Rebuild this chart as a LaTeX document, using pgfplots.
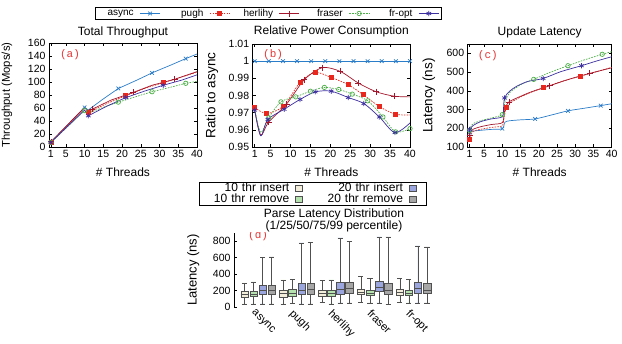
\documentclass[border=0pt]{standalone}
\usepackage{pgfplots}
\pgfplotsset{compat=1.18}
\usepgfplotslibrary{statistics}
\usepackage{fontspec}
\setmainfont{Liberation Sans}
\newfontfamily\monofont{Liberation Mono}
\definecolor{casync}{HTML}{2B7CC9}
\definecolor{cpugh}{HTML}{E8281E}
\definecolor{cherl}{HTML}{A3162B}
\definecolor{cfras}{HTML}{4CAF47}
\definecolor{cfropt}{HTML}{3C2FA0}
\definecolor{ins10}{HTML}{F2EEDB}
\definecolor{rem10}{HTML}{B6E2B0}
\definecolor{ins20}{HTML}{9BA6DF}
\definecolor{rem20}{HTML}{A6A6A6}
\definecolor{boxdraw}{HTML}{505050}
\definecolor{lblred}{HTML}{E83535}
\pgfplotsset{
  sasync/.style={color=casync, solid, line width=0.7pt, mark=x, mark size=2.6pt, mark options={solid}},
  spugh/.style={color=cpugh, dash pattern=on 1.6pt off 1.2pt, line width=0.7pt, mark=square*, mark size=2pt, mark options={solid}},
  sherl/.style={color=cherl, solid, line width=0.7pt, mark=+, mark size=3pt, mark options={solid}},
  sfras/.style={color=cfras, dash pattern=on 1.6pt off 1.2pt, line width=0.7pt, mark=o, mark size=2.2pt, mark options={solid}},
  sfropt/.style={color=cfropt, solid, line width=0.7pt, mark=asterisk, mark size=2.6pt, mark options={solid}},
  topax/.style={scale only axis, anchor=south west, xmin=0.5, xmax=40,
    xtick={1,5,10,15,20,25,30,35,40}, tick align=inside, tick pos=both,
    major tick length=3pt, axis line style={line width=0.6pt},
    every tick/.style={black, line width=0.5pt},
    tick label style={font=\fontsize{10.5}{12}\selectfont},
    /pgf/number format/assume math mode=true,
    xlabel={\# Threads},
    xlabel style={font=\fontsize{12}{14}\selectfont, at={(axis description cs:0.5,-0.24)}, anchor=center},
    title style={font=\fontsize{12}{14}\selectfont, anchor=center, yshift=-6pt},
    ylabel style={anchor=center},
  },
}
\begin{document}
\begin{tikzpicture}
\useasboundingbox (0pt,0pt) rectangle (622pt,344pt);
% ---------------- (a)
\begin{axis}[topax, at={(49pt,197pt)}, width=148pt, height=104pt,
  ymin=0, ymax=160, ytick={0,20,...,160},
  title={Total Throughput}, title style={at={(axis description cs:0.5,1.106)}},
  ylabel={Throughput (Mops/s)},
  ylabel style={font=\fontsize{11.3}{13}\selectfont, at={(axis description cs:-0.284,0.5)}}]
\addplot[sasync, mark indices={1,2,5,7,9}] coordinates {(1,7) (10,61) (11,57) (15,74) (19,90) (24,103) (28,114) (33,126) (37,136) (40,143)};
\addplot[spugh, mark indices={1,3,5,7}] coordinates {(1,7) (10,60) (11,53) (16,67) (21,79) (26,90) (31,99) (36,108) (40,115)};
\addplot[sherl, mark indices={1,4,6,8}] coordinates {(1,8) (10,61) (11,55) (12,58) (17,72) (23,84) (28,95) (34,104) (40,116)};
\addplot[sfras, mark indices={1,2,5,7,9}] coordinates {(1,7) (10,56) (11,52) (15,61) (19,69) (24,78) (28,85) (33,92) (37,98) (40,101)};
\addplot[sfropt, mark indices={1,3,5,7}] coordinates {(1,7) (10,57) (11,48) (16,63) (21,76) (26,86) (31,95) (36,103) (40,111)};
\node[text=lblred, font=\monofont\fontsize{11}{12}\selectfont] at (rel axis cs:0.142,0.885) {(a)};
\end{axis}
% ---------------- (b)
\begin{axis}[topax, at={(252.7pt,197pt)}, width=157.3pt, height=103pt,
  ymin=0.95, ymax=1.01, ytick={0.95,0.96,0.97,0.98,0.99,1,1.01},
  yticklabels={0.95,0.96,0.97,0.98,0.99,1,1.01},
  title={Relative Power Consumption}, title style={at={(axis description cs:0.5,1.119)}},
  ylabel={Ratio to async},
  ylabel style={font=\fontsize{13.5}{15}\selectfont, at={(axis description cs:-0.26,0.5)}},
  legend columns=5, legend plot pos=right,
  legend image code/.code={\draw[mark repeat=2,mark phase=2,#1] plot coordinates {(0pt,0pt) (10pt,0pt) (20pt,0pt)};},
  legend style={at={(0.1,1.296)}, anchor=center, draw=black, line width=0.6pt,
    inner xsep=2pt, inner ysep=0.5pt, font=\fontsize{10}{11}\selectfont,
    nodes={inner xsep=0pt, inner ysep=1pt, text width=36pt, align=right},
    /tikz/every odd column/.append style={column sep=6pt},
    /tikz/every even column/.append style={column sep=7pt}},
  ]
\addlegendimage{sasync}\addlegendentry{async}
\addlegendimage{spugh}\addlegendentry{pugh}
\addlegendimage{sherl}\addlegendentry{herlihy}
\addlegendimage{sfras}\addlegendentry{fraser}
\addlegendimage{sfropt}\addlegendentry{fr-opt}
\addplot[sasync, forget plot] coordinates {(1,1) (4.545,1) (8.09,1) (11.636,1) (15.18,1) (18.73,1) (22.27,1) (25.82,1) (29.36,1) (32.9,1) (36.45,1) (40,1)};
\addplot[spugh, smooth, forget plot, mark indices={1,2,3,4,5,6,7,8,9,10}] coordinates {(1,0.973) (4,0.9695) (8.2,0.9738) (12.4,0.9876) (16.2,0.9934) (20.2,0.9905) (24.4,0.9864) (28.3,0.9804) (32.3,0.9736) (36.3,0.9691) (40,0.9687)};
\addplot[sherl, smooth, forget plot, mark indices={3,4,5,6,7,8,9,10}] coordinates {(1,0.972) (2.5,0.957) (4.5,0.9645) (9,0.975) (13.5,0.9893) (18,0.9962) (22.5,0.9940) (27,0.9873) (31.5,0.9822) (36,0.9796) (40,0.9792)};
\addplot[sfras, smooth, forget plot, mark indices={3,4,5,6,7,8,9,10,11,12,13}] coordinates {(1,0.972) (2.5,0.9585) (4.5,0.967) (7.6,0.9763) (11.3,0.9792) (15,0.9825) (18.5,0.9847) (22.1,0.9835) (25.5,0.9808) (29.4,0.9769) (33.2,0.9675) (36.4,0.9588) (40,0.9607)};
\addplot[sfropt, smooth, forget plot, mark indices={1,3,4,5,6,7,8,9,10,11}] coordinates {(1,0.9715) (2.5,0.9565) (4.3,0.966) (8.4,0.972) (12.4,0.9777) (16.2,0.9821) (20.2,0.9825) (24.5,0.9788) (28.4,0.9753) (32.3,0.9675) (36.2,0.9584) (40,0.964)};
\node[text=lblred, font=\monofont\fontsize{11}{12}\selectfont] at (rel axis cs:0.13,0.898) {(b)};
\end{axis}
% ---------------- (c)
\begin{axis}[topax, at={(467.7pt,197pt)}, width=144pt, height=103pt,
  ymin=100, ymax=650, ytick={100,200,...,600},
  title={Update Latency}, title style={at={(axis description cs:0.5,1.114)}},
  ylabel={Latency (ns)},
  ylabel style={font=\fontsize{13.5}{15}\selectfont, at={(axis description cs:-0.27,0.5)}}]
\addplot[sasync, smooth, mark indices={1,6,10,12,14}] coordinates {(1,177) (1.5,182) (2,185) (4,189) (7,194) (10,198) (10.7,232) (12,240) (15,245) (19,250) (23.5,271) (28,293) (32.5,307) (37,321) (40,331)};
\addplot[spugh, smooth, mark indices={1,9,13,15}] coordinates {(1,141) (1.5,172) (2,183) (3,190) (5,198) (8,207) (10,213) (10.5,260) (11.1,311) (12,333) (14,357) (17,385) (21.2,416) (26,448) (31.5,479) (36,503) (40,525)};
\addplot[sherl, smooth, mark indices={1,9,12,14}] coordinates {(1,162) (1.5,185) (2,195) (4,208) (7,220) (10,230) (10.5,280) (11,320) (11.8,341) (14,362) (18,395) (23,427) (28,460) (34,493) (40,523)};
\addplot[sfras, smooth, mark indices={1,6,12,14,16}] coordinates {(1,189) (1.5,215) (2,225) (4,240) (7,255) (10,273) (10.5,320) (11,355) (12,390) (14,420) (16,442) (18.6,461) (23,498) (28,534) (32.5,565) (37.4,595) (40,609)};
\addplot[sfropt, smooth, mark indices={1,8,12,14}] coordinates {(1,193) (1.5,205) (2,215) (4,235) (7,250) (10,261) (10.3,300) (10.6,362) (12,398) (14,425) (17,450) (21.2,466) (26,502) (31.7,534) (36,560) (40,582)};
\node[text=lblred, font=\monofont\fontsize{11}{12}\selectfont] at (rel axis cs:0.14,0.888) {(c)};
\end{axis}
% ---------------- (d)
\begin{axis}[at={(234pt,37pt)}, anchor=south west, scale only axis, width=204pt, height=74pt,
  xmin=-0.618, xmax=4.633, ymin=0, ymax=900,
  axis y line*=left, axis x line*=bottom, x axis line style={draw=none},
  y axis line style={line width=0.6pt},
  xtick={0,1,2,3,4}, xticklabels={async,pugh,herlihy,fraser,fr-opt},
  xtick style={draw=none},
  xticklabel style={rotate=-45, anchor=north west, font=\fontsize{11}{13}\selectfont, inner sep=0.5pt, xshift=-1pt, yshift=-2pt},
  ytick={0,200,400,600,800}, tick align=inside, major tick length=3pt,
  ytick style={black, line width=0.5pt},
  yticklabel style={font=\fontsize{10.5}{12}\selectfont},
  /pgf/number format/assume math mode=true,
  ylabel={Latency (ns)},
  ylabel style={font=\fontsize{13}{15}\selectfont, at={(axis description cs:-0.2,0.5)}, anchor=center},
  title={Parse Latency Distribution\\(1/25/50/75/99 percentile)},
  title style={align=center, font=\fontsize{12}{12}\selectfont, at={(axis description cs:0.49,1.176)}, anchor=center, yshift=-6pt},
  legend columns=2, legend plot pos=right,
  legend image code/.code={\draw[#1] (0pt,-3pt) rectangle (7pt,3pt);},
  legend style={at={(0.387,1.53)}, anchor=center, draw=black, line width=0.6pt,
    inner xsep=10pt, inner ysep=0.5pt, font=\fontsize{12}{13}\selectfont,
    nodes={inner xsep=0pt, inner ysep=0.5pt, text width=80pt, align=right},
    /tikz/every odd column/.append style={column sep=6pt},
    /tikz/every even column/.append style={column sep=20pt}},
  boxplot/draw direction=y,
  ]
\addlegendimage{fill=ins10, draw=boxdraw, line width=0.6pt}\addlegendentry{10 thr insert}
\addlegendimage{fill=ins20, draw=boxdraw, line width=0.6pt}\addlegendentry{20 thr insert}
\addlegendimage{fill=rem10, draw=boxdraw, line width=0.6pt}\addlegendentry{10 thr remove}
\addlegendimage{fill=rem20, draw=boxdraw, line width=0.6pt}\addlegendentry{20 thr remove}
% async
\addplot[forget plot, fill=ins10, draw=boxdraw, boxplot prepared={draw position=-0.35, lower whisker=40, lower quartile=125, median=155, upper quartile=190, upper whisker=295, box extend=0.19, whisker extend=0.13}] coordinates {};
\addplot[forget plot, fill=rem10, draw=boxdraw, boxplot prepared={draw position=-0.117, lower whisker=40, lower quartile=130, median=158, upper quartile=195, upper whisker=305, box extend=0.19, whisker extend=0.13}] coordinates {};
\addplot[forget plot, fill=ins20, draw=boxdraw, boxplot prepared={draw position=0.117, lower whisker=40, lower quartile=155, median=200, upper quartile=260, upper whisker=600, box extend=0.19, whisker extend=0.13}] coordinates {};
\addplot[forget plot, fill=rem20, draw=boxdraw, boxplot prepared={draw position=0.35, lower whisker=40, lower quartile=160, median=205, upper quartile=265, upper whisker=610, box extend=0.19, whisker extend=0.13}] coordinates {};
% pugh
\addplot[forget plot, fill=ins10, draw=boxdraw, boxplot prepared={draw position=0.65, lower whisker=40, lower quartile=125, median=165, upper quartile=200, upper whisker=330, box extend=0.19, whisker extend=0.13}] coordinates {};
\addplot[forget plot, fill=rem10, draw=boxdraw, boxplot prepared={draw position=0.883, lower whisker=45, lower quartile=135, median=170, upper quartile=215, upper whisker=340, box extend=0.19, whisker extend=0.13}] coordinates {};
\addplot[forget plot, fill=ins20, draw=boxdraw, boxplot prepared={draw position=1.117, lower whisker=40, lower quartile=150, median=205, upper quartile=290, upper whisker=780, box extend=0.19, whisker extend=0.13}] coordinates {};
\addplot[forget plot, fill=rem20, draw=boxdraw, boxplot prepared={draw position=1.35, lower whisker=40, lower quartile=160, median=215, upper quartile=295, upper whisker=790, box extend=0.19, whisker extend=0.13}] coordinates {};
% herlihy
\addplot[forget plot, fill=ins10, draw=boxdraw, boxplot prepared={draw position=1.65, lower whisker=55, lower quartile=130, median=165, upper quartile=205, upper whisker=320, box extend=0.19, whisker extend=0.13}] coordinates {};
\addplot[forget plot, fill=rem10, draw=boxdraw, boxplot prepared={draw position=1.883, lower whisker=40, lower quartile=135, median=170, upper quartile=210, upper whisker=330, box extend=0.19, whisker extend=0.13}] coordinates {};
\addplot[forget plot, fill=ins20, draw=boxdraw, boxplot prepared={draw position=2.117, lower whisker=50, lower quartile=160, median=215, upper quartile=300, upper whisker=840, box extend=0.19, whisker extend=0.13}] coordinates {};
\addplot[forget plot, fill=rem20, draw=boxdraw, boxplot prepared={draw position=2.35, lower whisker=50, lower quartile=165, median=225, upper quartile=305, upper whisker=795, box extend=0.19, whisker extend=0.13}] coordinates {};
% fraser
\addplot[forget plot, fill=ins10, draw=boxdraw, boxplot prepared={draw position=2.65, lower whisker=60, lower quartile=150, median=185, upper quartile=220, upper whisker=370, box extend=0.19, whisker extend=0.13}] coordinates {};
\addplot[forget plot, fill=rem10, draw=boxdraw, boxplot prepared={draw position=2.883, lower whisker=50, lower quartile=140, median=170, upper quartile=210, upper whisker=350, box extend=0.19, whisker extend=0.13}] coordinates {};
\addplot[forget plot, fill=ins20, draw=boxdraw, boxplot prepared={draw position=3.117, lower whisker=50, lower quartile=190, median=240, upper quartile=310, upper whisker=852, box extend=0.19, whisker extend=0.13}] coordinates {};
\addplot[forget plot, fill=rem20, draw=boxdraw, boxplot prepared={draw position=3.35, lower whisker=30, lower quartile=160, median=200, upper quartile=285, upper whisker=852, box extend=0.19, whisker extend=0.13}] coordinates {};
% fr-opt
\addplot[forget plot, fill=ins10, draw=boxdraw, boxplot prepared={draw position=3.65, lower whisker=55, lower quartile=145, median=180, upper quartile=215, upper whisker=350, box extend=0.19, whisker extend=0.13}] coordinates {};
\addplot[forget plot, fill=rem10, draw=boxdraw, boxplot prepared={draw position=3.883, lower whisker=50, lower quartile=140, median=170, upper quartile=205, upper whisker=340, box extend=0.19, whisker extend=0.13}] coordinates {};
\addplot[forget plot, fill=ins20, draw=boxdraw, boxplot prepared={draw position=4.117, lower whisker=50, lower quartile=170, median=225, upper quartile=300, upper whisker=742, box extend=0.19, whisker extend=0.13}] coordinates {};
\addplot[forget plot, fill=rem20, draw=boxdraw, boxplot prepared={draw position=4.35, lower whisker=50, lower quartile=165, median=210, upper quartile=295, upper whisker=732, box extend=0.19, whisker extend=0.13}] coordinates {};
\node[text=lblred, font=\monofont\fontsize{11}{12}\selectfont] at (rel axis cs:0.118,0.96) {(d)};
\end{axis}
\end{tikzpicture}
\end{document}
